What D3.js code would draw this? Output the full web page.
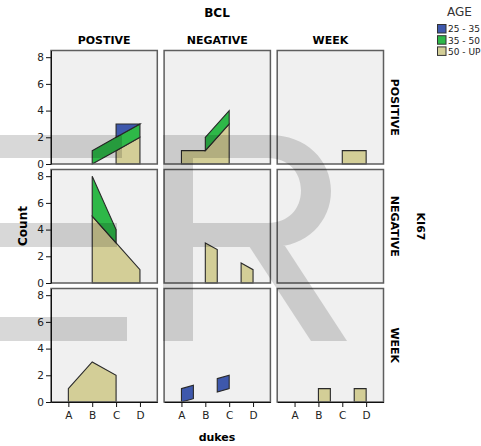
<!DOCTYPE html>
<html><head><meta charset="utf-8">
<script src="https://cdn.jsdelivr.net/npm/d3@7/dist/d3.min.js"></script>
<style>body{margin:0;background:#fff}svg{display:block;font-family:"DejaVu Sans",sans-serif}</style>
</head><body>
<svg id="c" width="481" height="446"></svg>
<script>
// ---- data ----
const dukes = ["A", "B", "C", "D"];
const ageGroups = ["25 - 35", "35 - 50", "50 - UP"];
const bclLevels = ["POSTIVE", "NEGATIVE", "WEEK"];
const ki67Levels = ["POSITIVE", "NEGATIVE", "WEEK"];
const yTicks = [0, 2, 4, 6, 8];
// counts[ki67 row][bcl col][dukes A..D]; null = no cases
const count50up = [
  [[null, null, 1, 2], [1, 1, 3, null], [null, null, 1, 1]],
  [[null, 5, 3, 1], [null, 3, null, 1], [null, null, null, null]],
  [[1, 3, 2, null], [null, null, 1, null], [null, 1, null, 1]]
];
const count35to50 = [
  [[null, 1, 1, 1], [null, 1, 1, null], [null, null, null, null]],
  [[null, 3, 1, null], [null, null, null, null], [null, null, null, null]],
  [[null, null, null, null], [null, null, null, null], [null, null, null, null]]
];
const count25to35 = [
  [[null, null, 1, 0], [null, null, null, null], [null, null, null, null]],
  [[null, null, null, null], [null, null, null, null], [null, null, null, null]],
  [[null, null, null, null], [1, null, 1, null], [null, null, null, null]]
];
const ageColors = ["#3e58ac", "#2eb848", "#d3ce97"];

// ---- layout ----
const svg = d3.select("#c");
const left0 = 51, top0 = 50.5, pw = 106.3, ph = 113.5, gapX = 6.8, gapY = 5.5;
const x = d3.scalePoint().domain(dukes).range([0, pw]).padding(0.727);
const y = d3.scaleLinear().domain([0, 8.5]).range([ph, 0]);
const area = d3.area().x(d => d.x).y0(d => y(d.y0)).y1(d => y(d.y1));

// stacking order bottom->top: 50-UP, 35-50, 25-35
const stackOrder = [
  {data: count50up, color: ageColors[2]},
  {data: count35to50, color: ageColors[1]},
  {data: count25to35, color: ageColors[0]}
];

function buildPieces(base, vals) {
  const pts = [];
  vals.forEach((v, i) => { if (v !== null) pts.push({i, y0: base[i], y1: base[i] + v}); });
  const out = [];
  let cur = [];
  const xi = i => x(dukes[i]);
  pts.forEach((p, k) => {
    if (k === 0) { cur.push({x: xi(p.i), y0: p.y0, y1: p.y1}); return; }
    const q = pts[k - 1];
    if (p.i === q.i + 1) {
      cur.push({x: xi(p.i), y0: p.y0, y1: p.y1});
    } else {
      const n = p.i - q.i;
      const lerp = (t) => ({
        x: xi(q.i) + (xi(p.i) - xi(q.i)) * t,
        y0: q.y0 + (p.y0 - q.y0) * t,
        y1: q.y1 + (p.y1 - q.y1) * t
      });
      cur.push(lerp(0.5 / n));
      out.push(cur);
      cur = [lerp(1 - 0.5 / n), {x: xi(p.i), y0: p.y0, y1: p.y1}];
    }
  });
  out.push(cur);
  return out.filter(c => c.length > 1);
}

ki67Levels.forEach((rowName, r) => {
  bclLevels.forEach((colName, c) => {
    const g = svg.append("g").attr("transform", `translate(${left0 + c * (pw + gapX)},${top0 + r * (ph + gapY)})`);
    g.append("rect").attr("width", pw).attr("height", ph).attr("fill", "#f0f0f0");
    const base = [0, 0, 0, 0];
    stackOrder.forEach(s => {
      const vals = s.data[r][c];
      buildPieces(base, vals).forEach(pc => {
        g.append("path").attr("d", area(pc)).attr("fill", s.color)
          .attr("stroke", "#2a2a2a").attr("stroke-width", 1.1).attr("stroke-linejoin", "miter");
      });
      vals.forEach((v, i) => { if (v !== null) base[i] += v; });
    });
    g.append("rect").attr("width", pw).attr("height", ph).attr("fill", "none")
      .attr("stroke", "#5e5e5e").attr("stroke-width", 1.5);
    if (c === 0) {
      const ax = g.append("g").call(d3.axisLeft(y).tickValues(yTicks).tickSize(5).tickSizeOuter(0).tickPadding(2));
      ax.selectAll("text").attr("font-size", 10.5).attr("fill", "#222").attr("font-family", "DejaVu Sans");
      ax.selectAll("line,path").attr("stroke", "#111");
    }
    if (r === 2) {
      const ax = g.append("g").attr("transform", `translate(0,${ph})`)
        .call(d3.axisBottom(x).tickSize(5).tickSizeOuter(0).tickPadding(5));
      ax.selectAll("text").attr("font-size", 10.5).attr("fill", "#222").attr("font-family", "DejaVu Sans");
      ax.selectAll("line,path").attr("stroke", "#111");
    }
    if (r === 0) {
      svg.append("text").attr("x", left0 + c * (pw + gapX) + pw / 2).attr("y", 43.5)
        .attr("text-anchor", "middle").attr("font-size", 11).attr("font-weight", "bold").text(colName);
    }
    if (c === 2) {
      svg.append("text").attr("transform", `translate(391,${top0 + r * (ph + gapY) + ph / 2}) rotate(90)`)
        .attr("text-anchor", "middle").attr("font-size", 11).attr("font-weight", "bold").text(rowName);
    }
  });
});

// titles
svg.append("text").attr("x", 217).attr("y", 17).attr("text-anchor", "middle")
  .attr("font-size", 12).attr("font-weight", "bold").text("BCL");
svg.append("text").attr("x", 217).attr("y", 441).attr("text-anchor", "middle")
  .attr("font-size", 11).attr("font-weight", "bold").text("dukes");
svg.append("text").attr("transform", "translate(27,226) rotate(-90)").attr("text-anchor", "middle")
  .attr("font-size", 12).attr("font-weight", "bold").text("Count");
svg.append("text").attr("transform", "translate(416.5,226.5) rotate(90)").attr("text-anchor", "middle")
  .attr("font-size", 11).attr("font-weight", "bold").text("KI67");

// legend
svg.append("text").attr("x", 459.5).attr("y", 15.5).attr("text-anchor", "middle")
  .attr("font-size", 12).attr("fill", "#333").text("AGE");
ageGroups.forEach((a, i) => {
  svg.append("rect").attr("x", 437.5).attr("y", 24.5 + i * 11.2).attr("width", 8.5).attr("height", 8.5)
    .attr("fill", ageColors[i]).attr("stroke", "#333").attr("stroke-width", 1);
  svg.append("text").attr("x", 448).attr("y", 32.3 + i * 11.2).attr("font-size", 9)
    .attr("fill", "#222").text(a);
});

// decorative watermark overlay (not data)
const wm = svg.append("g").attr("opacity", 0.15).attr("pointer-events", "none");
wm.append("rect").attr("x", 0).attr("y", 135).attr("width", 122).attr("height", 23).attr("fill", "#000");
wm.append("rect").attr("x", 0).attr("y", 223).attr("width", 117).attr("height", 24).attr("fill", "#000");
wm.append("rect").attr("x", 0).attr("y", 317).attr("width", 127).attr("height", 24).attr("fill", "#000");
wm.append("path").attr("fill", "#000").attr("fill-rule", "evenodd")
  .attr("d", "M163,135H270C306,135 331,160 331,191C331,222 306,247 272,247H193V341H163Z" +
             "M193,158H268C288,158 301,172 301,190.5C301,209 288,223 268,223H193Z");
wm.append("path").attr("fill", "#000").attr("d", "M249,246H285L347,341H311Z");
</script>
</body></html>
